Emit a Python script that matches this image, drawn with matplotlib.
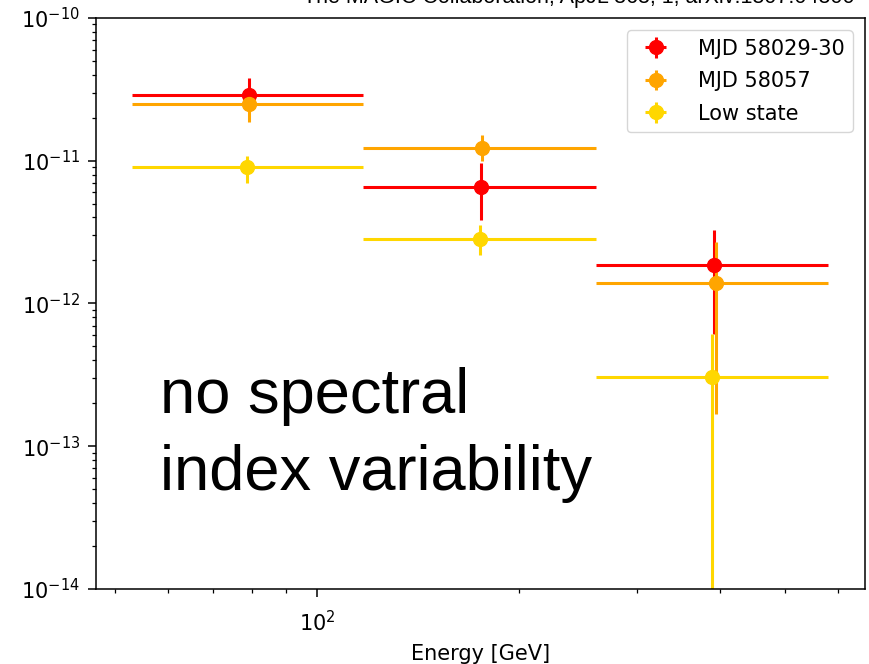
import matplotlib
matplotlib.use("Agg")
import matplotlib.pyplot as plt
import numpy as np

# energy bins [GeV]
bin_lo = [52.9, 117.1, 260.9]
bin_hi = [117.1, 260.9, 579.0]

# MJD 58029-30 (red)
red_e = [79.1, 175.7, 391.4]
red_f = [2.90e-11, 6.56e-12, 1.85e-12]
red_up = [3.77e-11, 9.6e-12, 3.26e-12]
red_dn = [2.3e-11, 3.87e-12, 6.15e-13]

# MJD 58057 (orange)
ora_e = [79.1, 176.3, 394.0]
ora_f = [2.49e-11, 1.22e-11, 1.40e-12]
ora_up = [2.9e-11, 1.51e-11, 2.70e-12]
ora_dn = [1.87e-11, 1.0e-11, 1.67e-13]

# Low state (gold)
low_e = [78.6, 175.0, 388.8]
low_f = [8.97e-12, 2.85e-12, 3.05e-13]
low_up = [1.08e-11, 3.53e-12, 6.15e-13]
low_dn = [7.0e-12, 2.18e-12, 1e-16]

series = [
    ("MJD 58029-30", "red", red_e, red_f, red_up, red_dn),
    ("MJD 58057", "orange", ora_e, ora_f, ora_up, ora_dn),
    ("Low state", "gold", low_e, low_f, low_up, low_dn),
]

fig = plt.figure(figsize=(8.69, 6.64), dpi=100)
ax = fig.add_axes([0.1105, 0.113, 0.885, 0.86])

lo = np.array(bin_lo)
hi = np.array(bin_hi)
for label, color, e, f, up, dn in series:
    e = np.array(e)
    f = np.array(f)
    xerr = [e - lo, hi - e]
    yerr = [f - np.array(dn), np.array(up) - f]
    ax.errorbar(e, f, xerr=xerr, yerr=yerr, fmt="o", color=color,
                markersize=10, elinewidth=2.2, capsize=0, label=label)

ax.set_xscale("log")
ax.set_yscale("log")
ax.set_xlim(46.8, 658)
ax.set_ylim(1e-14, 1e-10)
ax.tick_params(labelsize=15, length=5.5, width=1.1)
ax.tick_params(which="minor", length=2.8, width=0.9)
ax.tick_params(axis="x", which="both", pad=10)
ax.tick_params(axis="y", which="both", pad=6)
for s in ax.spines.values():
    s.set_linewidth(1.1)
ax.set_xlabel("Energy [GeV]", fontsize=15, labelpad=6)

ax.legend(loc="upper right", fontsize=15, handletextpad=1.0,
          borderpad=0.4, labelspacing=0.6, framealpha=0.8,
          borderaxespad=0.6)

ax.text(0.083, 0.15, "no spectral\nindex variability", transform=ax.transAxes,
        fontsize=45.5, family="Liberation Sans", va="bottom", ha="left",
        linespacing=1.4)

fig.text(0.984, 0.995, "The MAGIC Collaboration, ApJL 863, 1, arXiv:1807.04300",
         fontsize=15.5, family="Liberation Sans", ha="right", va="baseline")

fig.savefig("out.png", dpi=100)
